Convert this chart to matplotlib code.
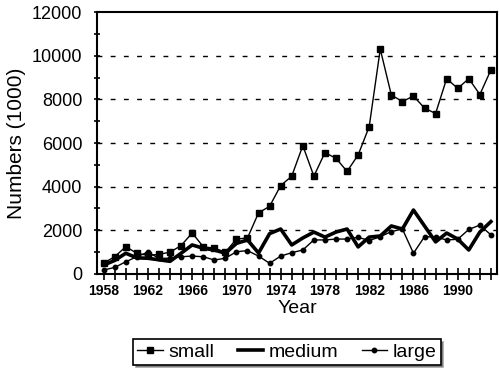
import matplotlib
matplotlib.use("Agg")
import matplotlib.pyplot as plt
from matplotlib.ticker import MultipleLocator, FixedLocator

plt.rcParams['font.family'] = ['Liberation Sans', 'DejaVu Sans']

years = list(range(1958, 1994))
small = [500, 790, 1250, 950, 850, 900, 1000, 1300, 1880, 1250, 1180, 1000,
         1600, 1650, 2800, 3100, 4050, 4480, 5880, 4480, 5560, 5300, 4700, 5450,
         6750, 10300, 8200, 7900, 8150, 7600, 7350, 8950, 8500, 8950, 8220, 9350]
medium = [410, 620, 950, 740, 720, 650, 580, 950, 1330, 1180, 1100, 950,
          1400, 1560, 960, 1850, 2060, 1330, 1650, 1920, 1690, 1920, 2060, 1240,
          1690, 1740, 2200, 2060, 2930, 2200, 1470, 1875, 1600, 1100, 1920, 2400]
large = [180, 300, 560, 790, 1000, 720, 720, 790, 820, 790, 640, 720,
         1020, 1070, 820, 490, 820, 975, 1100, 1560, 1560, 1600, 1600, 1680,
         1530, 1710, 1940, 2060, 950, 1710, 1690, 1560, 1590, 2040, 2240, 1790]
series_names = ["small", "medium", "large"]
xtick_labels = [1958, 1962, 1966, 1970, 1974, 1978, 1982, 1986, 1990]
yticks = [0, 2000, 4000, 6000, 8000, 10000, 12000]

fig = plt.figure(figsize=(5, 3.7), dpi=100)
ax = fig.add_axes([0.194, 0.2595, 0.8, 0.708])

for y in yticks[1:-1]:
    ax.axhline(y, color='black', lw=1.0, ls=(0, (3.5, 6)), zorder=1)

ax.plot(years, small, color='black', lw=1.0, marker='s', ms=4.5, label=series_names[0], zorder=3)
ax.plot(years, medium, color='black', lw=2.6, label=series_names[1], zorder=2)
ax.plot(years, large, color='black', lw=1.0, marker='o', ms=3.2, label=series_names[2], zorder=3)

ax.set_xlim(1957.4, 1993.55)
ax.set_ylim(0, 12000)
ax.set_xticks(years)
ax.set_xticklabels([str(y) if y in xtick_labels else '' for y in years],
                   fontsize=10, fontweight='bold')
ax.set_yticks(yticks)
ax.yaxis.set_minor_locator(MultipleLocator(1000))
ax.tick_params(axis='x', direction='inout', length=8, width=1.2, pad=3)
ax.tick_params(axis='y', which='both', direction='inout', length=5, width=1.2, pad=8, labelsize=13)
for s in ax.spines.values():
    s.set_linewidth(1.5)

ax.set_xlabel('Year', fontsize=14, labelpad=2)
ax.set_ylabel('Numbers (1000)', fontsize=15, labelpad=4)

leg = ax.legend(loc='center', bbox_to_anchor=(287/500, 1 - 352/370), bbox_transform=fig.transFigure,
                ncol=3, frameon=True, fancybox=False, shadow=True, fontsize=14,
                handlelength=1.3, handletextpad=0.3, columnspacing=1.2,
                borderpad=0.2, borderaxespad=0)
leg.get_frame().set_edgecolor('black')
leg.get_frame().set_linewidth(1.2)

fig.savefig('out.png', dpi=100)
